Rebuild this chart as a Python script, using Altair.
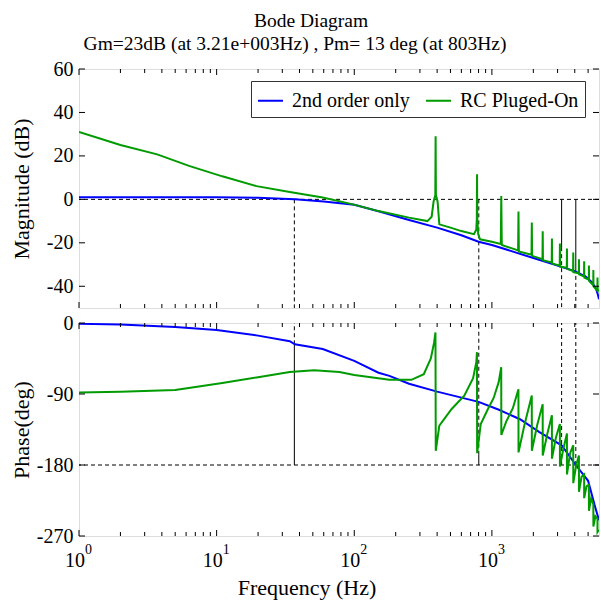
import altair as alt
import pandas as pd

# ---------------- text ----------------
TITLE = "Bode Diagram"
SUBTITLE = "Gm=23dB (at 3.21e+003Hz) , Pm= 13 deg (at 803Hz)"
SERIES = ["2nd order only", "RC Pluged-On"]
COLORS = ["#0000ff", "#009b00"]
MAG_TITLE = "Magnitude (dB)"
PH_TITLE = "Phase(deg)"
X_TITLE = "Frequency (Hz)"

# ---------------- data ----------------
blue_mag_f = [1, 2, 5, 10, 20, 37, 60, 100, 150, 250, 400, 600, 800, 1000, 1500, 2000,
              3000, 4000, 4800, 5300, 5700, 5900, 6000]
blue_mag_db = [1.0, 1.0, 1.0, 1.0, 0.7, 0.0, -1.0, -2.5, -5.5, -9.5, -13, -16.5, -19.5, -21,
               -24.5, -27, -30.5, -33, -35.5, -38, -41, -44, -46]

green_mag_f = [1, 2, 3.7, 6.3, 11, 19.5, 34, 59, 98, 150, 250, 340, 365, 377, 388, 390, 392,
               403, 415, 500, 600, 740, 770, 777, 780, 783, 795, 820, 1000, 1160, 1170, 1180,
               1550, 1560, 1570, 1940, 1950, 1960, 2330, 2340, 2350, 2720, 2730, 2740,
               3110, 3120, 3130, 3500, 3510, 3520, 3890, 3900, 3910, 4280, 4290, 4300,
               4670, 4680, 4690, 5060, 5070, 5080, 5450, 5460, 5470, 5840, 5850, 5870, 6000]
green_mag_db = [31, 25, 20.7, 15.4, 10.6, 6.1, 3.4, 0.9, -2.3, -5.4, -8.4, -10, -8, -1, 2, 29, 2,
                -1, -11.5, -13, -14.6, -16, -14, -9, 11.5, -9, -16, -18.4, -19.5, -20.5, 1.5, -21,
                -23.5, -5.6, -24, -25.5, -10.7, -26, -27.5, -14.7, -28, -29, -18, -29.5,
                -30.5, -20.3, -31, -31.5, -22.6, -32, -33, -24.5, -33.5, -34, -27.6, -34.5,
                -35.5, -28.5, -36, -37, -30.5, -37.5, -39.5, -32.5, -40, -42, -36, -42, -42]

blue_ph_f = [1, 2, 5, 10, 20, 34, 37, 59, 100, 150, 180, 250, 400, 800, 1125, 1600, 2200,
             3210, 4070, 5000, 5600, 6000]
blue_ph_deg = [-1, -2, -5, -9, -16, -23, -27, -33, -48, -63, -67, -77, -87, -100, -110, -122,
               -138, -155, -180, -200, -232, -250]

green_ph_f = [1, 2, 5, 11, 19.5, 34, 51, 78, 100, 180, 260, 320, 360, 380, 389, 391, 415, 510,
              630, 730, 770, 779, 781, 830, 930, 1030, 1120, 1169, 1171, 1270, 1420, 1559, 1561,
              1720, 1949, 1951, 2130, 2339, 2341, 2530, 2729, 2731, 2920, 3119, 3121, 3300,
              3509, 3511, 3700, 3899, 3901, 4100, 4289, 4291, 4480, 4679, 4681, 4870, 5069,
              5071, 5260, 5459, 5461, 5650, 5849, 5851, 6000]
green_ph_deg = [-88, -87, -85, -76, -69, -62, -60, -62, -66, -72, -72, -65, -45, -25, -12, -162,
                -130, -109, -92, -70, -50, -37, -165, -128, -110, -95, -75, -56, -142, -125,
                -108, -84, -164, -130, -92, -162, -130, -103, -168, -140, -117, -172, -145,
                -128, -182, -160, -140, -192, -165, -155, -203, -180, -168, -214, -195, -192,
                -222, -207, -205, -238, -222, -230, -258, -245, -248, -265, -262]

# margin markers
gm_f = [3210, 4070]
gm_db = [-22, -32]
pm_f = [36.7, 803]
pm_deg = [-27, -167]

# axes
mag_ticks = [60, 40, 20, 0, -20, -40]
ph_ticks = [0, -90, -180, -270]
x_major = [1, 10, 100, 1000]
x_exp = ["0", "1", "2", "3"]
x_minor = [2, 3, 4, 5, 6, 7, 8, 9, 20, 30, 40, 50, 60, 70, 80, 90,
           200, 300, 400, 500, 600, 700, 800, 900, 2000, 3000, 4000, 5000]

# ---------------- layout / style ----------------
W, H1, H2 = 520, 239, 213
FONT = "Liberation Serif"
MAJ, MIN = 6, 4

xs = alt.Scale(type="log", domain=[1, 6000], nice=False)
ys_mag = alt.Scale(domain=[-50, 60], nice=False, zero=False)
ys_ph = alt.Scale(domain=[-270, 0], nice=False, zero=False)
cs = alt.Scale(domain=SERIES, range=COLORS)

X = alt.X("f:Q", scale=xs, axis=None)


def yaxis(values, title, h):
    return alt.Axis(values=values, ticks=False, domain=False, grid=False,
                    labelFont=FONT, labelFontSize=20, labelColor="black", labelPadding=6,
                    labelExpr="'' + datum.value", labelFlush=False,
                    title=title, titleFont=FONT, titleFontSize=22, titleFontWeight="normal",
                    titleColor="black", titleX=-51, titleY=h / 2, titleAngle=270,
                    titleAlign="center", titleBaseline="alphabetic")


AX_MAG = yaxis(mag_ticks, MAG_TITLE, H1)
AX_PH = yaxis(ph_ticks, PH_TITLE, H2)

mag_df = pd.concat([
    pd.DataFrame({"f": blue_mag_f, "v": blue_mag_db, "s": SERIES[0]}),
    pd.DataFrame({"f": green_mag_f, "v": green_mag_db, "s": SERIES[1]}),
])
ph_df = pd.concat([
    pd.DataFrame({"f": blue_ph_f, "v": blue_ph_deg, "s": SERIES[0]}),
    pd.DataFrame({"f": green_ph_f, "v": green_ph_deg, "s": SERIES[1]}),
])

dash = dict(color="black", strokeWidth=1, strokeDash=[4, 3])
solid = dict(color="black", strokeWidth=1)


def tick_layers(Y, yvals, h):
    maj = pd.DataFrame({"f": x_major})
    mnr = pd.DataFrame({"f": x_minor})
    yv = pd.DataFrame({"v": yvals})
    return [
        alt.Chart(maj).mark_rule(**solid).encode(x=X, y=alt.value(0), y2=alt.value(MAJ)),
        alt.Chart(maj).mark_rule(**solid).encode(x=X, y=alt.value(h), y2=alt.value(h - MAJ)),
        alt.Chart(mnr).mark_rule(**solid).encode(x=X, y=alt.value(0), y2=alt.value(MIN)),
        alt.Chart(mnr).mark_rule(**solid).encode(x=X, y=alt.value(h), y2=alt.value(h - MIN)),
        alt.Chart(yv).mark_rule(**solid).encode(y=Y, x=alt.value(0), x2=alt.value(MAJ)),
        alt.Chart(yv).mark_rule(**solid).encode(y=Y, x=alt.value(W), x2=alt.value(W - MAJ)),
    ]


# ---------------- magnitude panel ----------------
Ym = alt.Y("v:Q", scale=ys_mag, axis=AX_MAG)
zero_df = pd.DataFrame({"v": [0]})
pm_top = pd.DataFrame({"f": pm_f, "v": [0] * len(pm_f)})
gm_top = pd.DataFrame({"f": gm_f, "v": gm_db, "z": [0] * len(gm_f)})

mag_layers = [
    alt.Chart(zero_df).mark_rule(**dash).encode(y=Ym),
    alt.Chart(pm_top).mark_rule(**dash).encode(x=X, y=Ym, y2=alt.value(H1)),
    alt.Chart(gm_top).mark_rule(**solid).encode(x=X, y=Ym, y2="z:Q"),
    alt.Chart(gm_top).mark_rule(**dash).encode(x=X, y=Ym, y2=alt.value(H1)),
    alt.Chart(mag_df).mark_line(strokeWidth=2, clip=True).encode(
        x=X,
        y=Ym,
        color=alt.Color("s:N", scale=cs, legend=alt.Legend(
            title=None, orient="none", legendX=172, legendY=12, direction="horizontal",
            fillColor="white", strokeColor="#333333", padding=6,
            symbolType="stroke", symbolSize=625, symbolStrokeWidth=2,
            labelFont=FONT, labelFontSize=20, labelColor="black", labelOffset=8,
            columnPadding=12)),
    ),
] + tick_layers(Ym, mag_ticks, H1) + [
    alt.Chart(pd.DataFrame({"t": [TITLE]})).mark_text(
        font=FONT, fontSize=19.5, color="black", align="center", baseline="alphabetic"
    ).encode(x=alt.value(232), y=alt.value(-42), text="t:N"),
    alt.Chart(pd.DataFrame({"t": [SUBTITLE]})).mark_text(
        font=FONT, fontSize=19.5, color="black", align="center", baseline="alphabetic"
    ).encode(x=alt.value(216), y=alt.value(-19), text="t:N"),
]
top = alt.layer(*mag_layers).properties(width=W, height=H1)

# ---------------- phase panel ----------------
Yp = alt.Y("v:Q", scale=ys_ph, axis=AX_PH)
m180_df = pd.DataFrame({"v": [-180]})
pm_bot = pd.DataFrame({"f": pm_f, "v": pm_deg, "c": [-180] * len(pm_f)})
gm_bot = pd.DataFrame({"f": gm_f, "v": [-180] * len(gm_f)})
lab_df = pd.DataFrame({"f": x_major, "e": x_exp})

ph_layers = [
    alt.Chart(m180_df).mark_rule(**dash).encode(y=Yp),
    alt.Chart(pm_bot).mark_rule(**dash).encode(x=X, y=Yp, y2=alt.value(0)),
    alt.Chart(pm_bot).mark_rule(**solid).encode(x=X, y=Yp, y2="c:Q"),
    alt.Chart(gm_bot).mark_rule(**dash).encode(x=X, y=Yp, y2=alt.value(0)),
    alt.Chart(ph_df).mark_line(strokeWidth=2, clip=True).encode(
        x=X,
        y=Yp,
        color=alt.Color("s:N", scale=cs, legend=None),
    ),
] + tick_layers(Yp, ph_ticks, H2) + [
    alt.Chart(lab_df).mark_text(font=FONT, fontSize=20, color="black", align="right",
                                baseline="alphabetic", dx=6).encode(
        x=X, y=alt.value(H2 + 31), text=alt.value("10")),
    alt.Chart(lab_df).mark_text(font=FONT, fontSize=14, color="black", align="left",
                                baseline="alphabetic", dx=6).encode(
        x=X, y=alt.value(H2 + 18), text="e:N"),
    alt.Chart(pd.DataFrame({"t": [X_TITLE]})).mark_text(
        font=FONT, fontSize=22, color="black", align="center", baseline="alphabetic"
    ).encode(x=alt.value(228), y=alt.value(H2 + 59), text="t:N"),
]
bottom = alt.layer(*ph_layers).properties(width=W, height=H2)

chart = (
    alt.vconcat(top, bottom, spacing=15, bounds="flush")
    .resolve_scale(color="independent")
    .resolve_legend(color="independent")
    .properties(padding={"left": 9, "top": 10, "right": 0, "bottom": 0})
    .configure_view(stroke="black", strokeWidth=1)
    .configure(font=FONT, background="white")
)

chart.save("out.html", embed_options={"renderer": "svg", "actions": False})
